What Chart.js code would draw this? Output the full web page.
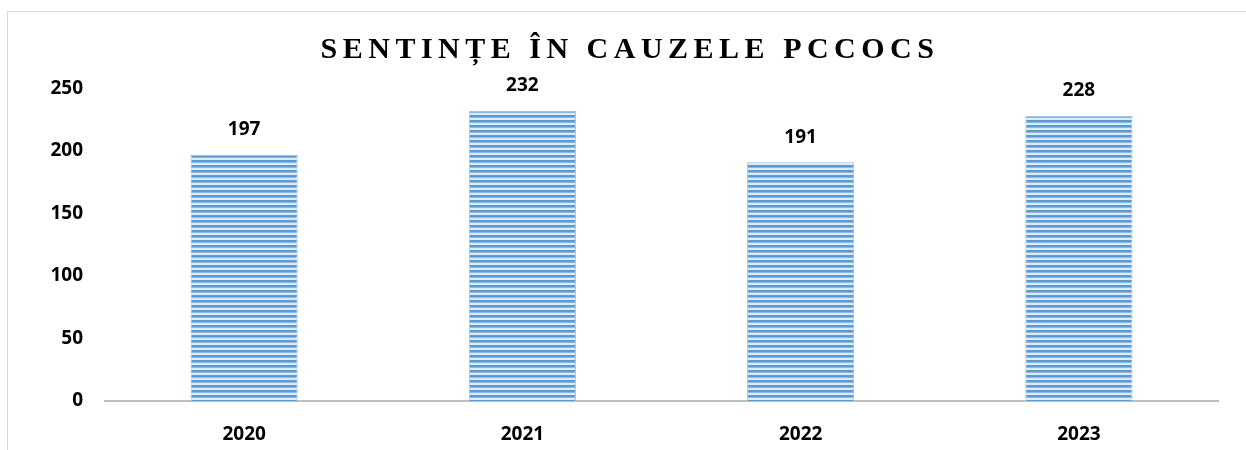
<!DOCTYPE html>
<html>
<head>
<meta charset="utf-8">
<script src="https://cdn.jsdelivr.net/npm/chart.js@4"></script>
<style>
  body { margin: 0; background: #fff; overflow: hidden; }
  #wrap { position: relative; width: 1246px; height: 450px; }
  #frame { position: absolute; left: 7px; top: 11px; width: 1300px; height: 500px; border: 1px solid #d9d9d9; }
  #myChart { position: absolute; left: 0; top: 0; }
</style>
</head>
<body>
<div id="wrap">
  <div id="frame"></div>
  <canvas id="myChart" width="1246" height="450"></canvas>
</div>
<script>
const chartTitle = 'SENTINȚE ÎN CAUZELE PCCOCS';
const years = ['2020', '2021', '2022', '2023'];
const sentences = [197, 232, 191, 228];
const yTicks = [0, 50, 100, 150, 200, 250];

// horizontal striped fill like the original
function makeStripes() {
    const c = document.createElement('canvas');
    c.width = 8;
    c.height = 5;
    const g = c.getContext('2d');
    g.fillStyle = '#dcebf8';
    g.fillRect(0, 0, 8, 5);
    g.fillStyle = '#5b9bd5';
    g.fillRect(0, 0, 8, 2);
    g.fillStyle = '#8ab8e3';
    g.fillRect(0, 2, 8, 1);
    return g.createPattern(c, 'repeat');
}

const spacedTitle = {
    id: 'spacedTitle',
    afterDraw(chart) {
        const ctx = chart.ctx;
        ctx.save();
        ctx.font = 'bold 30px "Liberation Serif"';
        ctx.letterSpacing = '5.5px';
        ctx.fillStyle = '#000';
        ctx.textAlign = 'center';
        ctx.textBaseline = 'middle';
        ctx.fillText(chartTitle, 630, 50);
        ctx.restore();
    }
};

const valueLabels = {
    id: 'valueLabels',
    afterDatasetsDraw(chart) {
        const ctx = chart.ctx;
        const meta = chart.getDatasetMeta(0);
        ctx.save();
        ctx.font = 'bold 19px "Open Sans"';
        ctx.fillStyle = '#000';
        ctx.textAlign = 'center';
        ctx.textBaseline = 'middle';
        meta.data.forEach((bar, i) => {
            ctx.fillText(sentences[i], bar.x, bar.y - 25);
        });
        ctx.restore();
    }
};

const tickFont = { family: '"Open Sans"', size: 19, weight: 'bold' };

new Chart(document.getElementById('myChart'), {
    type: 'bar',
    data: {
        labels: years,
        datasets: [{
            data: sentences,
            backgroundColor: makeStripes(),
            borderColor: '#9dc3e6',
            borderWidth: { left: 1, right: 1, top: 1 },
            categoryPercentage: 1,
            barPercentage: 0.385
        }]
    },
    options: {
        responsive: false,
        animation: false,
        layout: { padding: { left: 0, right: 28, top: 0, bottom: 0 } },
        scales: {
            x: {
                afterFit: s => { s.height = 49; },
                grid: { display: false, drawTicks: false },
                border: { display: true, color: '#bfbfbf', width: 2 },
                ticks: { color: '#000', font: tickFont, padding: 22 }
            },
            y: {
                min: 0,
                max: 250,
                afterFit: s => { s.width = 105; },
                afterBuildTicks: s => { s.ticks = yTicks.map(v => ({ value: v })); },
                grid: { display: false, drawTicks: false },
                border: { display: false },
                ticks: { color: '#000', font: tickFont, padding: 22 }
            }
        },
        plugins: {
            legend: { display: false },
            tooltip: { enabled: false },
            title: {
                display: true,
                text: chartTitle,
                color: 'rgba(0,0,0,0)',
                font: { family: '"Liberation Serif"', size: 28, weight: 'bold' },
                padding: { top: 33, bottom: 22 }
            }
        }
    },
    plugins: [spacedTitle, valueLabels]
});
</script>
</body>
</html>
